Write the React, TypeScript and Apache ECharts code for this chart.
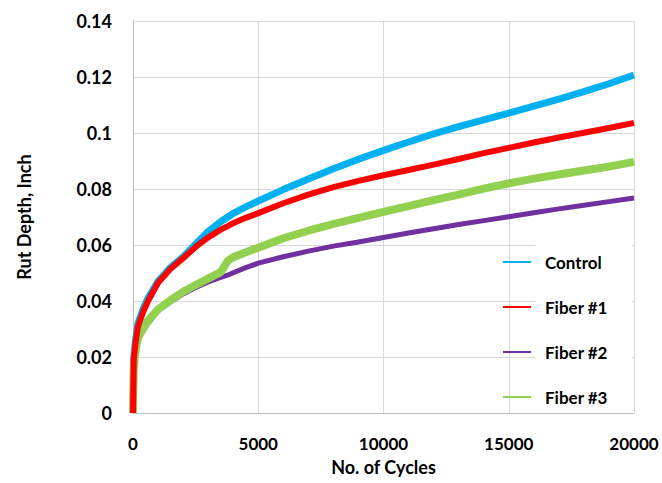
import React, { useEffect, useRef } from "react";
import * as echarts from "echarts";

// Number of load cycles at which rut depth is sampled
const cycles = [
  0, 30, 100, 200, 400, 600, 1000, 1500, 2000, 2500, 3000, 3500, 3800, 4000, 4500, 5000,
  6000, 7000, 8000, 9000, 10000, 11000, 12000, 13000, 14000, 15000, 16000, 17000, 18000,
  19000, 20000,
];

// Rut depth (inch) for each mix
const control = [
  0, 0.02, 0.026, 0.032, 0.037, 0.041, 0.047, 0.052, 0.0557, 0.0603, 0.0648, 0.0683, 0.0701,
  0.0713, 0.0736, 0.0757, 0.0798, 0.0836, 0.0872, 0.0906, 0.0938, 0.0968, 0.0997, 0.1023,
  0.1047, 0.1071, 0.1096, 0.1121, 0.1148, 0.1176, 0.1207,
];
const fiber1 = [
  0, 0.019, 0.025, 0.031, 0.036, 0.04, 0.0465, 0.0515, 0.0553, 0.0593, 0.0627, 0.0655,
  0.0668, 0.0678, 0.0697, 0.0714, 0.0749, 0.078, 0.0807, 0.0829, 0.0849, 0.0868, 0.0887,
  0.0907, 0.0928, 0.0947, 0.0966, 0.0984, 0.1001, 0.1018, 0.1036,
];
const fiber2 = [
  0, 0.015, 0.021, 0.026, 0.0295, 0.032, 0.0365, 0.0397, 0.0425, 0.0448, 0.0468, 0.0484,
  0.0493, 0.0501, 0.0519, 0.0535, 0.0558, 0.0578, 0.0596, 0.0611, 0.0627, 0.0643, 0.0658,
  0.0673, 0.0687, 0.0701, 0.0715, 0.0729, 0.0742, 0.0755, 0.0768,
];
const fiber3 = [
  0, 0.016, 0.022, 0.027, 0.03, 0.033, 0.037, 0.0403, 0.0433, 0.0457, 0.048, 0.0503, 0.0545,
  0.0556, 0.0574, 0.059, 0.0624, 0.0651, 0.0675, 0.0697, 0.0718, 0.0739, 0.076, 0.078,
  0.0801, 0.082, 0.0837, 0.0852, 0.0866, 0.088, 0.0897,
];

const seriesNames = ["Control", "Fiber #1", "Fiber #2", "Fiber #3"];
const xTicks = [0, 5000, 10000, 15000, 20000];

const FONT = "Lato, 'Open Sans', 'DejaVu Sans', sans-serif";

const pairs = (ys: number[]) => cycles.map((c, i) => [c, ys[i]]);

export default function App() {
  const ref = useRef<HTMLDivElement>(null);

  useEffect(() => {
    if (!ref.current) return;
    const chart = echarts.init(ref.current, undefined, { renderer: "svg" });

    const lineSeries = (
      name: string,
      ys: number[],
      color: string,
      width: number,
      z: number
    ) => ({
      name,
      type: "line",
      data: pairs(ys),
      showSymbol: false,
      smooth: false,
      z,
      lineStyle: { color, width, cap: "butt", join: "round" },
      itemStyle: { color },
    });

    const boldText = (size: number) => ({
      fontFamily: FONT,
      fontWeight: "bold",
      fontSize: size,
      color: "#000",
    });

    chart.setOption({
      animation: false,
      backgroundColor: "#ffffff",
      textStyle: { fontFamily: FONT },
      grid: { left: 133, top: 21, right: 28, bottom: 70, containLabel: false },
      xAxis: {
        type: "value",
        min: 0,
        max: 20000,
        interval: 5000,
        name: "No. of Cycles",
        nameLocation: "middle",
        nameGap: 45,
        nameTextStyle: boldText(18),
        axisLine: { show: true, lineStyle: { color: "#BFBFBF", width: 1 } },
        axisTick: { show: false },
        axisLabel: {
          ...boldText(17),
          margin: 22,
          formatter: (v: number) => (xTicks.includes(v) ? String(v) : ""),
        },
        splitLine: { show: true, lineStyle: { color: "#D9D9D9", width: 1 } },
      },
      yAxis: {
        type: "value",
        min: 0,
        max: 0.14,
        interval: 0.02,
        name: "Rut Depth, Inch",
        nameLocation: "middle",
        nameGap: 100,
        nameTextStyle: boldText(18),
        axisLine: { show: true, lineStyle: { color: "#BFBFBF", width: 1 } },
        axisTick: { show: false },
        axisLabel: {
          ...boldText(18),
          margin: 21,
          formatter: (v: number) => String(parseFloat(v.toFixed(2))),
        },
        splitLine: { show: true, lineStyle: { color: "#D9D9D9", width: 1 } },
      },
      legend: {
        data: seriesNames,
        orient: "vertical",
        left: 498,
        top: 248,
        icon: "rect",
        itemWidth: 28,
        itemHeight: 2,
        itemGap: 27,
        z: 5,
        textStyle: {
          ...boldText(17),
          lineHeight: 18,
          padding: [0, 0, 0, 9],
        },
      },
      graphic: [
        {
          type: "rect",
          z: 1,
          shape: { x: 535, y: 240, width: 97, height: 170 },
          style: { fill: "#ffffff" },
          silent: true,
        },
      ],
      series: [
        lineSeries("Control", control, "#00B0F0", 7, 2),
        lineSeries("Fiber #1", fiber1, "#FF0000", 6, 5),
        lineSeries("Fiber #2", fiber2, "#7030A0", 5, 3),
        lineSeries("Fiber #3", fiber3, "#92D050", 8, 4),
      ],
    });

    return () => chart.dispose();
  }, []);

  return (
    <div
      ref={ref}
      style={{ position: "absolute", left: 0, top: 0, width: 662, height: 483 }}
    />
  );
}
